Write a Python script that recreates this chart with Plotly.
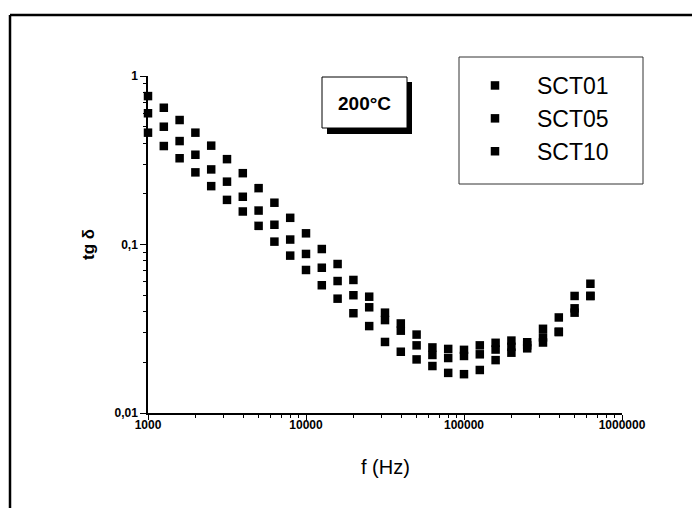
import plotly.graph_objects as go

# Measurement frequencies (Hz)
freq = [1000, 1259, 1585, 1995, 2512, 3162, 3981, 5012, 6310, 7943,
        10000, 12589, 15849, 19953, 25119, 31623, 39811, 50119, 63096, 79433,
        100000, 125893, 158489, 199526, 251189, 316228, 398107, 501187, 630957]

# Loss tangent at 200 °C
tg_sct01 = [0.760, 0.648, 0.548, 0.461, 0.386, 0.321, 0.265, 0.216, 0.177, 0.144,
            0.1165, 0.0940, 0.0766, 0.0616, 0.0490, 0.0394, 0.0340, 0.0292, 0.0245, 0.0240,
            0.0237, 0.0252, 0.0261, 0.0269, 0.0263, 0.0316, 0.0369, 0.0495, 0.0585]
tg_sct05 = [0.601, 0.500, 0.411, 0.341, 0.279, 0.236, 0.192, 0.159, 0.131, 0.107,
            0.0879, 0.0728, 0.0607, 0.0500, 0.0424, 0.0356, 0.0308, 0.0252, 0.0221, 0.0212,
            0.0218, 0.0223, 0.0238, 0.0247, 0.0252, 0.0281, 0.0304, 0.0418, 0.0495]
tg_sct10 = [0.461, 0.384, 0.325, 0.268, 0.222, 0.184, 0.157, 0.129, 0.104, 0.0859,
            0.0706, 0.0573, 0.0477, 0.0391, 0.0328, 0.0264, 0.0231, 0.0208, 0.0190, 0.0173,
            0.0170, 0.0180, 0.0206, 0.0228, 0.0242, 0.0262, 0.0302, 0.0394, 0.0495]

series_names = ["SCT01", "SCT05", "SCT10"]
series_values = [tg_sct01, tg_sct05, tg_sct10]

x_tick_vals = [1000, 10000, 100000, 1000000]
x_tick_text = ["1000", "10000", "100000", "1000000"]
y_tick_vals = [0.01, 0.1, 1]
y_tick_text = ["0,01", "0,1", "1"]

W, H = 692, 508
L, R, T, B = 148, 70, 76, 95
PW, PH = W - L - R, H - T - B
FONT = "Liberation Sans, Arial, sans-serif"


def px(x):
    return (x - L) / PW


def py(y):
    return (H - B - y) / PH


fig = go.Figure()
for name, vals in zip(series_names, series_values):
    fig.add_trace(go.Scatter(
        x=freq, y=vals, mode="markers", name=name, legendgroup=name,
        cliponaxis=False,
        marker=dict(symbol="square", size=8.5, color="black"),
    ))

minor_x = [m * 10 ** e for e in range(3, 6) for m in range(2, 10)]
minor_y = [m * 10 ** e for e in (-2, -1) for m in range(2, 10)]

tick_font = dict(family=FONT, size=12, color="black", weight="bold")

fig.update_xaxes(
    type="log", range=[2.99999, 6.00001], showline=True, linecolor="black", linewidth=1.5,
    mirror=False, showgrid=False, zeroline=False,
    ticks="outside", ticklen=5, tickwidth=1.2, tickcolor="black",
    tickvals=x_tick_vals, ticktext=x_tick_text, ticklabelstandoff=-5,
    tickfont=tick_font,
    minor=dict(tickvals=minor_x, ticks="outside", ticklen=3, tickwidth=1, tickcolor="black"),
)
fig.update_yaxes(
    type="log", range=[-2, 0], showline=True, linecolor="black", linewidth=1.5,
    mirror=False, showgrid=False, zeroline=False,
    ticks="outside", ticklen=6, tickwidth=1.2, tickcolor="black",
    tickvals=y_tick_vals, ticktext=y_tick_text,
    tickfont=tick_font,
    minor=dict(tickvals=minor_y, ticks="outside", ticklen=3, tickwidth=1, tickcolor="black"),
)

shapes = [
    # page frame (left and top edges)
    dict(type="line", xref="paper", yref="paper", x0=px(10), x1=px(10), y0=py(15), y1=py(H),
         line=dict(color="black", width=2.5)),
    dict(type="line", xref="paper", yref="paper", x0=px(10), x1=px(W), y0=py(15), y1=py(15),
         line=dict(color="black", width=2.5)),
    # temperature label box with drop shadow
    dict(type="rect", xref="paper", yref="paper", x0=px(327), x1=px(412), y0=py(134), y1=py(82),
         fillcolor="black", line=dict(width=0)),
    dict(type="rect", xref="paper", yref="paper", x0=px(322), x1=px(407), y0=py(128), y1=py(77),
         fillcolor="white", line=dict(color="black", width=1)),
    # legend frame
    dict(type="rect", xref="paper", yref="paper", x0=px(459), x1=px(643), y0=py(184), y1=py(57),
         fillcolor="white", line=dict(color="#333", width=1), layer="below"),
]

annotations = [
    dict(text="200°C", xref="paper", yref="paper", x=px(364.5), y=py(103),
         showarrow=False, xanchor="center", yanchor="middle",
         font=dict(family=FONT, size=19, color="black", weight="bold")),
    dict(text="tg δ", xref="paper", yref="paper", x=px(88), y=py(245),
         showarrow=False, xanchor="center", yanchor="middle", textangle=-90,
         font=dict(family=FONT, size=17, color="black", weight="bold")),
    dict(text="f (Hz)", xref="paper", yref="paper", x=px(385), y=py(467),
         showarrow=False, xanchor="center", yanchor="middle",
         font=dict(family=FONT, size=20, color="black")),
]

fig.update_layout(
    width=W, height=H,
    margin=dict(l=L, r=R, t=T, b=B, autoexpand=False),
    paper_bgcolor="white", plot_bgcolor="white",
    showlegend=True,
    legend=dict(
        x=px(453), y=py(64), xanchor="left", yanchor="top",
        bgcolor="rgba(0,0,0,0)", borderwidth=0,
        font=dict(family=FONT, size=23, color="black"),
        itemwidth=74, tracegroupgap=0,
    ),
    shapes=shapes,
    annotations=annotations,
)

fig.write_html("out.html")
